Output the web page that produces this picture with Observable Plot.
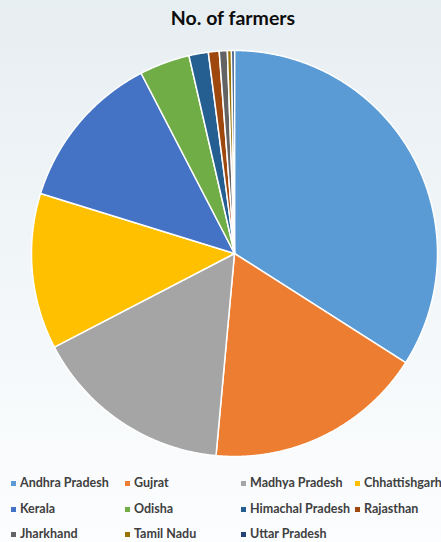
<!DOCTYPE html>
<html>
<head>
<meta charset="utf-8">
<script src="https://cdn.jsdelivr.net/npm/d3@7"></script>
<script src="https://cdn.jsdelivr.net/npm/@observablehq/plot@0.6"></script>
<style>
  html, body { margin: 0; padding: 0; }
  #wrap {
    position: relative; width: 441px; height: 542px; overflow: hidden;
    background: linear-gradient(to bottom, #e7eef2 0%, #f3f7f9 55%, #fcfdfe 100%);
    font-family: Lato, "Open Sans", sans-serif;
  }
  #title {
    position: absolute; top: 6px; left: 0; width: 466px; text-align: center;
    font-size: 19.5px; font-weight: bold; color: #0d0d0d;
  }
  #chart { position: absolute; top: 40px; left: 0; }
  .leg { position: absolute; font-size: 12.5px; font-weight: bold; color: #404040; white-space: nowrap; line-height: 14px; }
  .leg span.sw { position: absolute; left: -9px; top: 5px; width: 5px; height: 5px; }
</style>
</head>
<body>
<div id="wrap">
  <div id="title">No. of farmers</div>
  <div id="chart"></div>
  <div id="legend"></div>
</div>
<script>
const states = ["Andhra Pradesh", "Gujrat", "Madhya Pradesh", "Chhattishgarh", "Kerala", "Odisha",
  "Himachal Pradesh", "Rajasthan", "Jharkhand", "Tamil Nadu", "Uttar Pradesh"];
const shares = [34.0, 17.4, 15.9, 12.4, 12.6, 4.0, 1.54, 0.86, 0.64, 0.32, 0.24];
const colors = ["#5B9BD5", "#ED7D31", "#A5A5A5", "#FFC000", "#4472C4", "#70AD47",
  "#255E91", "#9E480E", "#636363", "#997300", "#264478"];

const pie = d3.pie().sort(null).value(d => d.value)(states.map((s, i) => ({name: s, value: shares[i]})));

// polygon vertices in data space (unit circle), built from the pie angles
const pts = [];
for (const a of pie) {
  const n = Math.max(2, Math.ceil((a.endAngle - a.startAngle) / 0.005));
  pts.push({name: a.data.name, x: 0, y: 0});
  for (let k = 0; k <= n; k++) {
    const t = a.startAngle + (a.endAngle - a.startAngle) * k / n;
    pts.push({name: a.data.name, x: Math.sin(t), y: Math.cos(t)});
  }
  pts.push({name: a.data.name, x: 0, y: 0});
}

const chart = Plot.plot({
  width: 441,
  height: 430,
  marginLeft: 31,
  marginRight: 4,
  marginTop: 10,
  marginBottom: 14,
  x: {domain: [-1, 1], axis: null},
  y: {domain: [-1, 1], axis: null},
  color: {domain: states, range: colors},
  style: {background: "transparent", overflow: "visible"},
  marks: [
    Plot.line(pts, {x: "x", y: "y", z: "name", fill: "name", stroke: "white", strokeWidth: 1.5,
      strokeLinejoin: "round", curve: "linear"})
  ]
});
document.getElementById("chart").appendChild(chart);

// legend
const legCols = [20, 134, 250, 364];
const legRows = [476, 502, 527];
const leg = document.getElementById("legend");
states.forEach((s, i) => {
  const d = document.createElement("div");
  d.className = "leg";
  d.style.left = legCols[i % 4] + "px";
  d.style.top = legRows[Math.floor(i / 4)] + "px";
  d.innerHTML = `<span class="sw" style="background:${colors[i]}"></span>${s}`;
  leg.appendChild(d);
});
</script>
</body>
</html>
